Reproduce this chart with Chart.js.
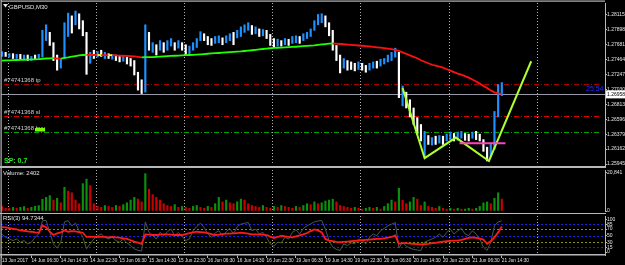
<!DOCTYPE html>
<html>
<head>
<meta charset="utf-8">
<script src="https://cdn.jsdelivr.net/npm/chart.js@4.4.1/dist/chart.umd.min.js"></script>
<style>
  html, body { margin: 0; padding: 0; background: #000; overflow: hidden; }
  #wrap { position: relative; width: 625px; height: 265px; background: #000; }
  canvas { position: absolute; left: 0; }
</style>
</head>
<body>
<div id="wrap">
  <canvas id="priceChart" width="625" height="168" style="top:0px"></canvas>
  <canvas id="volChart" width="625" height="47" style="top:167px"></canvas>
  <canvas id="rsiChart" width="625" height="52" style="top:213px"></canvas>
</div>
<script>
// -- Data (one entry per hour, GBPUSD) --
const high = [
  1.2758, 1.2757, 1.2755, 1.2755, 1.2754, 1.2754, 1.2753, 1.2753, 1.2751, 1.2753, 1.2754,
  1.2789, 1.2797, 1.2786, 1.2771, 1.2753, 1.2748, 1.2800, 1.2814, 1.2810, 1.2817,
  1.2813, 1.2803, 1.2786, 1.2757, 1.2760, 1.2758, 1.2760, 1.2757, 1.2755, 1.2754,
  1.2753, 1.2751, 1.2751, 1.2750, 1.2748, 1.2745, 1.2728, 1.2717, 1.2797, 1.2786,
  1.2771, 1.2768, 1.2774, 1.2771, 1.2774, 1.2777, 1.2771, 1.2774, 1.2771, 1.2768,
  1.2766, 1.2771, 1.2777, 1.2787, 1.2784, 1.2780, 1.2777, 1.2780, 1.2781, 1.2778,
  1.2781, 1.2784, 1.2786, 1.2789, 1.2794, 1.2797, 1.2800, 1.2796, 1.2794, 1.2791,
  1.2790, 1.2789, 1.2783, 1.2777, 1.2776, 1.2774, 1.2777, 1.2776, 1.2780, 1.2781,
  1.2780, 1.2784, 1.2786, 1.2791, 1.2803, 1.2812, 1.2813, 1.2810, 1.2800, 1.2789,
  1.2767, 1.2753, 1.2748, 1.2745, 1.2743, 1.2741, 1.2743, 1.2741, 1.2738, 1.2741,
  1.2743, 1.2744, 1.2747, 1.2748, 1.2753, 1.2757, 1.2763, 1.2757, 1.2708, 1.2699,
  1.2688, 1.2676, 1.2662, 1.2652, 1.2642, 1.2636, 1.2633, 1.2635, 1.2636, 1.2635,
  1.2638, 1.2641, 1.2639, 1.2641, 1.2642, 1.2639, 1.2638, 1.2641, 1.2642, 1.2638,
  1.2630, 1.2619, 1.2623, 1.2671, 1.2710, 1.2713
];
const low = [
  1.2751, 1.2751, 1.2750, 1.2748, 1.2748, 1.2747, 1.2747, 1.2745, 1.2745, 1.2747, 1.2748,
  1.2750, 1.2774, 1.2767, 1.2745, 1.2731, 1.2734, 1.2748, 1.2780, 1.2785, 1.2797,
  1.2791, 1.2781, 1.2725, 1.2741, 1.2748, 1.2750, 1.2751, 1.2748, 1.2748, 1.2747,
  1.2745, 1.2743, 1.2744, 1.2740, 1.2737, 1.2724, 1.2702, 1.2697, 1.2699, 1.2760,
  1.2757, 1.2753, 1.2760, 1.2757, 1.2760, 1.2766, 1.2760, 1.2763, 1.2760, 1.2754,
  1.2754, 1.2760, 1.2764, 1.2774, 1.2774, 1.2768, 1.2767, 1.2770, 1.2771, 1.2768,
  1.2771, 1.2774, 1.2768, 1.2778, 1.2780, 1.2786, 1.2789, 1.2783, 1.2784, 1.2780,
  1.2781, 1.2777, 1.2767, 1.2764, 1.2766, 1.2766, 1.2768, 1.2767, 1.2770, 1.2771,
  1.2770, 1.2774, 1.2777, 1.2780, 1.2789, 1.2797, 1.2800, 1.2794, 1.2781, 1.2760,
  1.2745, 1.2727, 1.2734, 1.2731, 1.2732, 1.2730, 1.2732, 1.2731, 1.2728, 1.2731,
  1.2734, 1.2734, 1.2737, 1.2740, 1.2743, 1.2745, 1.2750, 1.2691, 1.2679, 1.2676,
  1.2663, 1.2652, 1.2638, 1.2628, 1.2605, 1.2623, 1.2622, 1.2623, 1.2625, 1.2623,
  1.2628, 1.2630, 1.2628, 1.2629, 1.2632, 1.2629, 1.2628, 1.2632, 1.2630, 1.2628,
  1.2613, 1.2599, 1.2605, 1.2616, 1.2663, 1.2694
];
const bullish = [
  1,0,1,0,1,0,1,0,1,0,1,
  1,1,0,0,0,1,1,1,0,1,
  0,0,0,1,0,1,0,1,0,1,
  0,0,1,0,0,0,0,0,1,0,
  1,0,1,0,1,1,0,1,0,0,
  1,1,1,1,0,0,0,1,1,0,
  1,1,0,1,1,1,1,0,1,0,
  1,0,0,0,1,0,1,0,1,1,
  0,1,1,1,1,1,1,0,0,0,
  0,0,1,0,0,0,1,0,0,1,
  1,0,1,1,1,1,1,0,1,0,
  0,0,0,0,1,0,1,0,1,0,
  1,1,0,1,1,0,0,1,0,0,
  0,0,1,1,1,1
];
const movingAvg = [
  1.27450, 1.27452, 1.27454, 1.27456, 1.27458, 1.27460, 1.27462, 1.27464, 1.27466, 1.27468, 1.27470,
  1.27475, 1.27480, 1.27483, 1.27484, 1.27480, 1.27478, 1.27490, 1.27497, 1.27506, 1.27515,
  1.27524, 1.27531, 1.27533, 1.27532, 1.27531, 1.27530, 1.27530, 1.27529, 1.27528, 1.27528,
  1.27526, 1.27523, 1.27520, 1.27517, 1.27514, 1.27511, 1.27504, 1.27497, 1.27499, 1.27500,
  1.27501, 1.27504, 1.27507, 1.27511, 1.27514, 1.27517, 1.27520, 1.27523, 1.27526, 1.27529,
  1.27531, 1.27534, 1.27537, 1.27540, 1.27544, 1.27549, 1.27553, 1.27557, 1.27560, 1.27564,
  1.27569, 1.27572, 1.27576, 1.27580, 1.27583, 1.27589, 1.27595, 1.27600, 1.27606, 1.27612,
  1.27618, 1.27623, 1.27629, 1.27633, 1.27636, 1.27639, 1.27642, 1.27645, 1.27648, 1.27651,
  1.27655, 1.27659, 1.27664, 1.27668, 1.27672, 1.27678, 1.27684, 1.27690, 1.27695, 1.27698,
  1.27695, 1.27691, 1.27687, 1.27682, 1.27678, 1.27674, 1.27669, 1.27665, 1.27661, 1.27655,
  1.27649, 1.27643, 1.27638, 1.27631, 1.27623, 1.27615, 1.27606, 1.27590, 1.27569, 1.27547,
  1.27526, 1.27504, 1.27483, 1.27454, 1.27432, 1.27411, 1.27389, 1.27375, 1.27360, 1.27346,
  1.27324, 1.27303, 1.27281, 1.27260, 1.27245, 1.27224, 1.27202, 1.27174, 1.27145, 1.27117,
  1.27080, 1.27051, 1.27016, 1.26988, 1.26974, 1.26967
];
const volume = [
  2480, 1510, 1430, 1960, 1520, 2010, 2450, 1470, 1990, 2530, 2940,
  6430, 7460, 8420, 5950, 6900, 4470, 12890, 10880, 9900, 5980, 3950, 14900, 17350, 13880,
  3980, 2490, 1990, 2960, 2470, 1980, 3010, 2520, 3460, 4490, 5960, 7430, 6470, 4950,
  20340, 11900, 8930, 7420, 5960, 3970, 2990, 2480, 3480, 1990, 2500, 2010, 1480, 2490, 2990, 1980, 1490, 2510, 1970,
  3980, 7450, 4960, 5970, 4480, 3960, 4990, 6460, 5950, 3990, 2980, 2490, 1980, 2990, 2010, 1500, 2470, 1990, 2980,
  2490, 1980, 1510, 2500, 1990, 2970, 3980, 3460, 4980, 3970, 4460, 5450, 5960, 6440, 4970, 2990, 2480, 1990, 1490, 1980,
  1490, 990, 1500, 1980, 1470, 2000, 1010, 2490, 3980, 5960, 4970, 12400, 5950, 3970, 4960, 7440, 6450, 2980, 4970, 2480,
  1990, 1480, 2500, 1490, 990, 1510, 1000, 1490, 980, 1020, 1500, 1010, 1480, 2490, 4470, 4960, 3980, 6950, 9920, 6450
];
const rsi = [
  55,45,40,35,40,30,35,25,30,45,55,
  95,97,60,25,12,30,92,96,80,88,
  65,45,10,25,40,50,55,45,40,45,
  35,30,40,28,20,10,5,3,92,60,
  50,40,60,50,62,70,50,60,48,35,
  40,65,78,88,75,55,45,58,65,50,
  62,72,55,78,85,88,90,65,70,55,
  60,45,25,18,30,28,45,40,60,68,
  55,72,80,86,92,95,96,70,35,15,
  8,5,25,20,28,25,40,35,25,45,
  55,50,65,72,80,85,90,12,30,18,
  12,8,6,5,30,35,40,45,55,45,
  60,70,55,65,72,55,50,65,55,40,
  15,5,30,80,92,95
];
const rsiSignal = [
  76,75,73,71,69,66,65,63,62,60,59,
  81,76,62,52,57,60,66,62,64,63,
  61,59,46,46,46,47,46,46,45,46,
  45,44,42,40,36,32,29,25,54,53,
  52,52,53,54,54,53,52,52,52,55,
  58,60,62,61,60,58,55,52,53,55,
  56,56,57,58,59,58,56,54,54,53,
  53,52,47,43,46,50,48,46,45,48,
  51,54,58,64,69,66,60,40,35,33,
  31,30,31,32,33,34,35,36,37,38,
  39,40,40,42,44,46,51,25,27,27,
  26,25,24,23,24,25,27,28,30,32,
  33,34,35,35,37,40,43,45,43,41,
  38,25,33,45,60,78
];
const timeLabels = [
  "13 Jun 2017", "14 Jun 06:30", "14 Jun 14:30", "14 Jun 22:30", "15 Jun 06:30", "15 Jun 14:30",
  "15 Jun 22:30", "16 Jun 06:30", "16 Jun 14:30", "16 Jun 22:30", "19 Jun 06:30", "19 Jun 14:30",
  "19 Jun 22:30", "20 Jun 06:30", "20 Jun 14:30", "20 Jun 22:30", "21 Jun 06:30", "21 Jun 14:30"
];
const labelEvery = 8;                 // bars between time labels
const dayBreaks = [1.5, 25.5, 49.5, 73.5, 97.5, 121.5, 145.5];
const priceTicks = [1.28115, 1.27898, 1.27681, 1.27464, 1.27247, 1.27030, 1.26813, 1.26596, 1.26379, 1.26162, 1.25945];
const volumeTicks = [0, 20841];
const rsiTicks = [0, 15, 30, 50, 70, 85, 100];
const rsiOuterLevels = [85, 50, 15];
const rsiInnerLevels = [70, 30];
const zigzagBar = [109, 115, 123.5, 132.5, 144];
const zigzagPrice = [1.2705, 1.2603, 1.2633, 1.2599, 1.2744];
const pinkFrom = 124.5, pinkTo = 137, pinkPrice = 1.26247;

const symbol = "GBPUSD,M30";
const ticket = "74741368";
const takeProfit = 1.27109;
const stopLoss = 1.26649;
const openPrice = 1.26405;
const bid = 1.26958;
const spread = "0.7";
const barTimer = "25:54";
const lastVolume = 2402;
const lastRsi = 94.7344;

// -- Layout --
const xMin = -0.27, xMax = 164.08;
const priceMin = 1.25931, priceMax = 1.28287;
const frameColor = '#b8b8b8';
const textColor = '#e4e4e4';
const fontFamily = "'Liberation Sans Narrow', 'Liberation Sans', sans-serif";
const tinyFont = "6px " + fontFamily;
const axisFont = { family: fontFamily, size: 5 };
const timeFont = { family: fontFamily, size: 4.7 };

let drawDayLines = function(chart) {
  const {ctx, chartArea: a, scales: {x}} = chart;
  ctx.save();
  ctx.strokeStyle = '#b0b0b0';
  ctx.lineWidth = 1;
  ctx.setLineDash([1, 2]);
  for (let d of dayBreaks) {
    const px = Math.round(x.getPixelForValue(d)) + 0.5;
    ctx.beginPath();
    ctx.moveTo(px, a.top);
    ctx.lineTo(px, a.bottom);
    ctx.stroke();
  }
  ctx.restore();
}

let drawLeftEdge = function(chart) {
  const {ctx} = chart;
  ctx.save();
  ctx.fillStyle = frameColor;
  ctx.fillRect(0.5, 0, 1.2, chart.height);
  ctx.restore();
}

let rightAxis = function(ticks, extra) {
  return Object.assign({
    position: 'right',
    afterBuildTicks: s => { s.ticks = ticks.map(v => ({value: v})) },
    afterFit: s => { s.width = 20 },
    ticks: { color: textColor, font: axisFont, padding: 0, autoSkip: false },
    grid: { drawOnChartArea: false, color: frameColor, tickLength: 2 },
    border: { color: frameColor, width: 1 }
  }, extra);
}

let hiddenX = function() {
  return { type: 'linear', display: false, min: xMin, max: xMax, offset: false, grid: { offset: false } };
}

const baseOptions = {
  responsive: false,
  animation: false,
  devicePixelRatio: 1,
  events: [],
  plugins: { legend: { display: false }, tooltip: { enabled: false } }
};

// -- Price panel --
const priceOverlay = {
  id: 'priceOverlay',
  beforeDatasetsDraw(chart) {
    const {ctx, chartArea: a, scales: {y}} = chart;
    drawDayLines(chart);
    ctx.save();
    const orderLines = [[takeProfit, '#a80000'], [stopLoss, '#e00000'], [openPrice, '#00a400']];
    ctx.lineWidth = 1;
    ctx.setLineDash([5, 2, 1, 2]);
    for (let [price, color] of orderLines) {
      const py = Math.round(y.getPixelForValue(price)) + 0.5;
      ctx.strokeStyle = color;
      ctx.beginPath();
      ctx.moveTo(a.left + 3, py);
      ctx.lineTo(a.right - 5, py);
      ctx.stroke();
    }
    ctx.setLineDash([]);
    const by = Math.round(y.getPixelForValue(bid)) + 0.5;
    ctx.strokeStyle = '#9898a8';
    ctx.beginPath();
    ctx.moveTo(a.left, by);
    ctx.lineTo(a.right, by);
    ctx.stroke();
    ctx.restore();
  },
  afterDraw(chart) {
    const {ctx, chartArea: a, scales: {y}} = chart;
    ctx.save();
    ctx.fillStyle = frameColor;
    ctx.fillRect(1, 0.5, a.right - 1, 1.2);
    ctx.fillRect(0, 166, a.right + 1, 2);
    drawLeftEdge(chart);

    ctx.font = tinyFont;
    ctx.fillStyle = textColor;
    ctx.beginPath();
    ctx.moveTo(3, 4); ctx.lineTo(8, 4); ctx.lineTo(5.5, 7.5);
    ctx.fill();
    ctx.fillText(symbol, 9, 8.5);

    const tags = [[takeProfit, 'tp'], [stopLoss, 'sl'], [openPrice, 'buy']];
    for (let [price, kind] of tags) {
      const py = Math.round(y.getPixelForValue(price));
      ctx.fillStyle = '#d0d0d0';
      ctx.fillText('#' + ticket + ' ' + kind, 4, py - 2);
      if (kind === 'buy') {
        ctx.fillStyle = '#7cfc00';
        ctx.fillRect(35, py - 4, 10, 3.5);
      }
    }

    ctx.fillStyle = '#22ee22';
    ctx.font = "bold 7px 'Liberation Sans', sans-serif";
    ctx.fillText('SP: ' + spread, 4, 163);

    ctx.fillStyle = '#2a2aff';
    ctx.font = "7px 'Liberation Sans', sans-serif";
    const by = y.getPixelForValue(bid);
    ctx.fillText(barTimer, 586, by - 3.5);

    ctx.fillStyle = '#ffffff';
    ctx.fillRect(a.right + 1, by - 4, 19, 8);
    ctx.fillStyle = '#000000';
    ctx.font = "5px " + fontFamily;
    ctx.textBaseline = 'middle';
    ctx.fillText(bid.toFixed(5), a.right + 2, by);
    ctx.restore();
  }
};

new Chart(document.getElementById('priceChart'), {
  type: 'bar',
  data: {
    datasets: [
      {
        type: 'line',
        data: [{x: pinkFrom, y: pinkPrice}, {x: pinkTo, y: pinkPrice}],
        borderColor: '#ff44b8', borderWidth: 2, pointRadius: 0, order: 0
      },
      {
        type: 'line',
        data: zigzagBar.map((b, k) => ({x: b, y: zigzagPrice[k]})),
        borderColor: '#adff2f', borderWidth: 2, pointRadius: 0, order: 1
      },
      {
        type: 'line',
        data: movingAvg.map((v, i) => ({x: i, y: v})),
        borderWidth: 1.8, pointRadius: 0, order: 2,
        segment: {
          borderColor: c => {
            const d = c.p1.parsed.y - c.p0.parsed.y;
            if (d > 0.000005) return '#22ff00';
            if (d < -0.000005) return '#ff1010';
            return '#ffff00';
          }
        }
      },
      {
        type: 'bar',
        data: high.map((h, i) => ({x: i, y: [low[i], h]})),
        backgroundColor: bullish.map(b => b ? '#1e90ff' : '#ffffff'),
        barThickness: 1.5, borderWidth: 0, grouped: false, order: 3
      }
    ]
  },
  options: Object.assign({}, baseOptions, {
    layout: { padding: { left: 1, top: 2, bottom: 2, right: 0 } },
    scales: {
      x: hiddenX(),
      y: rightAxis(priceTicks, {
        min: priceMin, max: priceMax,
        ticks: { color: textColor, font: axisFont, padding: 0, autoSkip: false, callback: v => v.toFixed(5) }
      })
    }
  }),
  plugins: [priceOverlay]
});

// -- Volume panel --
const volumeOverlay = {
  id: 'volumeOverlay',
  beforeDatasetsDraw(chart) { drawDayLines(chart) },
  afterDraw(chart) {
    const {ctx, chartArea: a} = chart;
    ctx.save();
    ctx.fillStyle = frameColor;
    ctx.fillRect(0, 46, a.right + 1, 1.6);
    drawLeftEdge(chart);
    ctx.font = tinyFont;
    ctx.fillStyle = textColor;
    ctx.fillText('Volume: ' + lastVolume, 3, 7.5);
    ctx.restore();
  }
};

new Chart(document.getElementById('volChart'), {
  type: 'bar',
  data: {
    datasets: [{
      data: volume.map((v, i) => ({x: i, y: v})),
      backgroundColor: volume.map((v, i) => i > 0 && v > volume[i - 1] ? '#0a900a' : '#c80000'),
      barThickness: 1.5, borderWidth: 0
    }]
  },
  options: Object.assign({}, baseOptions, {
    layout: { padding: { left: 1, top: 1, bottom: 1, right: 0 } },
    scales: {
      x: hiddenX(),
      y: rightAxis(volumeTicks, { min: 0, max: 22330 })
    }
  }),
  plugins: [volumeOverlay]
});

// -- RSI panel --
const rsiOverlay = {
  id: 'rsiOverlay',
  beforeDatasetsDraw(chart) {
    const {ctx, chartArea: a, scales: {y}} = chart;
    drawDayLines(chart);
    ctx.save();
    ctx.lineWidth = 1;
    ctx.setLineDash([2, 2]);
    const groups = [[rsiOuterLevels, '#2020e0'], [rsiInnerLevels, '#8c8c00']];
    for (let [levels, color] of groups) {
      ctx.strokeStyle = color;
      for (let lv of levels) {
        const py = Math.round(y.getPixelForValue(lv)) + 0.5;
        ctx.beginPath();
        ctx.moveTo(a.left, py);
        ctx.lineTo(a.right, py);
        ctx.stroke();
      }
    }
    ctx.restore();
  },
  afterDraw(chart) {
    const {ctx} = chart;
    ctx.save();
    drawLeftEdge(chart);
    ctx.font = tinyFont;
    ctx.fillStyle = textColor;
    ctx.fillText('RSI(3) ' + lastRsi, 3, 6.5);
    ctx.restore();
  }
};

new Chart(document.getElementById('rsiChart'), {
  type: 'line',
  data: {
    datasets: [
      {
        data: rsiSignal.map((v, i) => ({x: i, y: v})),
        borderColor: '#ff1a1a', borderWidth: 1.8, pointRadius: 0, order: 0
      },
      {
        data: rsi.map((v, i) => ({x: i, y: v})),
        borderColor: '#465656', borderWidth: 1, pointRadius: 0, order: 1
      }
    ]
  },
  options: Object.assign({}, baseOptions, {
    layout: { padding: { left: 1, top: 1, bottom: 0, right: 0 } },
    scales: {
      x: {
        type: 'linear', min: xMin, max: xMax, offset: false, position: 'bottom',
        afterBuildTicks: s => { s.ticks = timeLabels.map((_, k) => ({value: k * labelEvery})) },
        afterFit: s => { s.height = 10; s.paddingLeft = 0; s.paddingRight = 0 },
        ticks: {
          color: textColor, font: timeFont, autoSkip: false, maxRotation: 0, minRotation: 0,
          align: 'start', padding: 0, callback: (v, k) => timeLabels[k]
        },
        grid: { drawOnChartArea: false, color: frameColor, tickLength: 3 },
        border: { color: frameColor, width: 1.5 }
      },
      y: rightAxis(rsiTicks, { min: -9, max: 110 })
    }
  }),
  plugins: [rsiOverlay]
});
</script>
</body>
</html>
